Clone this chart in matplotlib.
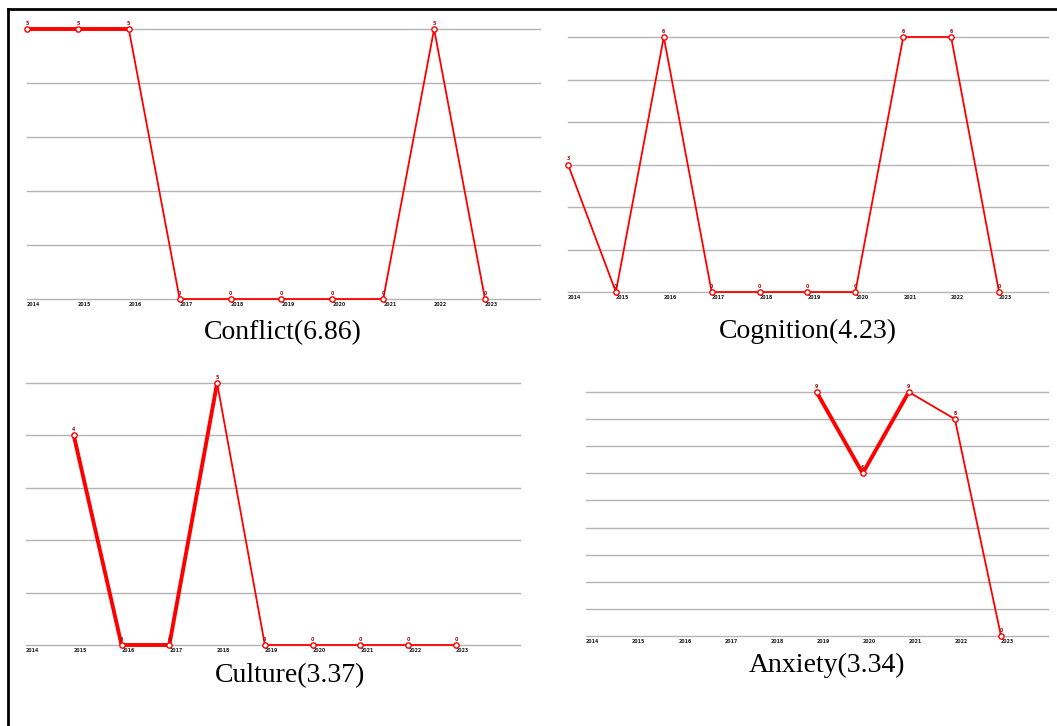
import numpy as np
import matplotlib.pyplot as plt
from matplotlib.lines import Line2D

# four keyword burst panels (values per year, NaN = no data)
years = [2014, 2015, 2016, 2017, 2018, 2019, 2020, 2021, 2022, 2023]
titles = ["Conflict(6.86)", "Cognition(4.23)", "Culture(3.37)", "Anxiety(3.34)"]
conflict = [5, 5, 5, 0, 0, 0, 0, 0, 5, 0]
cognition = [3, 0, 6, 0, 0, 0, 0, 6, 6, 0]
culture = [np.nan, 4, 0, 0, 5, 0, 0, 0, 0, 0]
anxiety = [np.nan, np.nan, np.nan, np.nan, np.nan, 9, 6, 9, 8, 0]
y_max = [5, 6, 5, 9]
burst_start = [2014, None, 2015, 2019]
burst_end = [2016, None, 2018, 2021]

W, H = 1057, 726
fig = plt.figure(figsize=(W / 100, H / 100), dpi=100)

# pixel boxes: x of 2014, x of 2023, right end of grid, y of top line, y of baseline
boxes = [
    (27, 485, 540, 29, 299),
    (568, 999, 1048, 37, 292),
    (26, 456, 520, 383, 645),
    (586, 1001, 1048, 392, 636),
]
title_pos = [(283, 333), (808, 331), (290, 676), (827, 665)]
series = [conflict, cognition, culture, anxiety]

red = "#ff0000"
for i in range(4):
    x0, x9, xr, yt, yb = boxes[i]
    step = (x9 - x0) / 9.0
    ax = fig.add_axes([x0 / W, 1 - yb / H, (xr - x0) / W, (yb - yt) / H])
    ax.set_xlim(2014, 2014 + (xr - x0) / step)
    ax.set_ylim(0, y_max[i])
    for s in ax.spines.values():
        s.set_visible(False)
    ax.set_xticks([])
    ax.set_yticks([])
    for k in range(y_max[i] + 1):
        ax.axhline(k, color="#b4b4b4", lw=1.0, zorder=1, clip_on=False)

    vals = np.array(series[i], dtype=float)
    yrs = np.array(years)
    ax.plot(yrs, vals, color=red, lw=1.3, zorder=2, clip_on=False)
    if burst_start[i] is not None:
        m = (yrs >= burst_start[i]) & (yrs <= burst_end[i])
        ax.plot(yrs[m], vals[m], color=red, lw=2.8, zorder=3, clip_on=False,
                solid_capstyle="round")
    ax.plot(yrs, vals, "o", ms=3.8, mfc="white", mec=red, mew=1.0, zorder=4,
            clip_on=False)
    for yr, v in zip(years, vals):
        if not np.isnan(v):
            ax.annotate("%d" % v, (yr, v), xytext=(0, 2.5),
                        textcoords="offset points", fontsize=3.4,
                        color="#a01010", ha="center", va="bottom",
                        fontweight="bold", annotation_clip=False)
    for yr in years:
        ax.annotate(str(yr), (yr, 0), xytext=(0, -2.5),
                    textcoords="offset points", fontsize=3.4,
                    color="#222222", ha="left", va="top", fontweight="bold",
                    annotation_clip=False)

    tx, ty = title_pos[i]
    fig.text(tx / W, 1 - ty / H, titles[i], fontsize=20,
             family="Liberation Serif", ha="center", va="center")

# outer frame (left and top edges only visible)
fig.add_artist(Line2D([8 / W, 8 / W], [1 - 9 / H, 0], color="black", lw=2.0,
                      transform=fig.transFigure))
fig.add_artist(Line2D([8 / W, 1], [1 - 9 / H, 1 - 9 / H], color="black", lw=2.0,
                      transform=fig.transFigure))

fig.savefig("out.png", dpi=100)
